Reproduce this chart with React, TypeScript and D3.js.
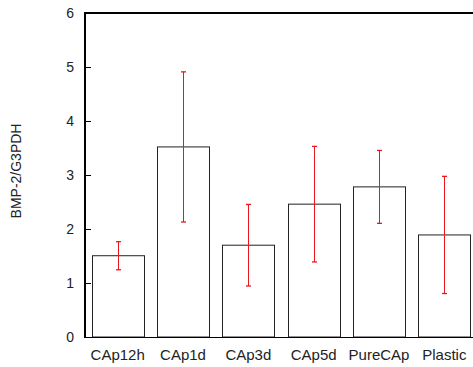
import React from "react";
import * as d3 from "d3";

const categories = ["CAp12h", "CAp1d", "CAp3d", "CAp5d", "PureCAp", "Plastic"];
const means = [1.505, 3.52, 1.70, 2.46, 2.78, 1.89];
const errors = [0.26, 1.39, 0.755, 1.07, 0.675, 1.085];
const yTicks = [0, 1, 2, 3, 4, 5, 6];

const W = 473;
const H = 367;
const left = 85;
const right = 477;
const top = 13;
const bottom = 337;

export default function App() {
  const x = d3.scaleBand<string>().domain(categories).range([left, right]).paddingInner(0.2).paddingOuter(0.1);
  const y = d3.scaleLinear().domain([0, 6]).range([bottom, top]);
  const font = "'Liberation Sans', Arial, sans-serif";
  return (
    <svg width={W} height={H} style={{ position: "absolute", left: 0, top: 0 }}>
      <rect x={0} y={0} width={W} height={H} fill="#fff" />
      {categories.map((c, i) => {
        const bx = x(c)!;
        const cx = bx + x.bandwidth() / 2;
        const hi = y(means[i] + errors[i]);
        const lo = y(means[i] - errors[i]);
        return (
          <g key={c}>
            <rect x={Math.round(bx) + 0.5} y={y(means[i])} width={Math.round(x.bandwidth())} height={bottom - y(means[i])} fill="#fff" stroke="#222" strokeWidth={1} />
            <line x1={Math.round(cx) + 0.5} x2={Math.round(cx) + 0.5} y1={hi} y2={lo} stroke="#e8181c" strokeWidth={1} />
            <line x1={Math.round(cx) - 2} x2={Math.round(cx) + 3} y1={hi} y2={hi} stroke="#e8181c" strokeWidth={1.3} />
            <line x1={Math.round(cx) - 2} x2={Math.round(cx) + 3} y1={lo} y2={lo} stroke="#e8181c" strokeWidth={1.3} />
            <text x={cx} y={360} textAnchor="middle" fontFamily={font} fontSize={15} fill="#222">{c}</text>
          </g>
        );
      })}
      <line x1={left} x2={W} y1={bottom + 0.5} y2={bottom + 0.5} stroke="#000" strokeWidth={1} />
      <line x1={left} x2={W} y1={top} y2={top} stroke="#000" strokeWidth={2} />
      <line x1={left} x2={left} y1={top - 1} y2={bottom + 1} stroke="#000" strokeWidth={2} />
      {yTicks.map((t) => (
        <g key={t}>
          {t > 0 && t < 6 && (
            <line x1={left} x2={left + 6} y1={Math.round(y(t)) + 0.5} y2={Math.round(y(t)) + 0.5} stroke="#000" strokeWidth={1} />
          )}
          <text x={74} y={y(t)} dy="0.35em" textAnchor="end" fontFamily={font} fontSize={14} fill="#222">{t}</text>
        </g>
      ))}
      <text transform={`translate(21, 171) rotate(-90)`} textAnchor="middle" fontFamily={font} fontSize={14} fill="#222">BMP-2/G3PDH</text>
    </svg>
  );
}
